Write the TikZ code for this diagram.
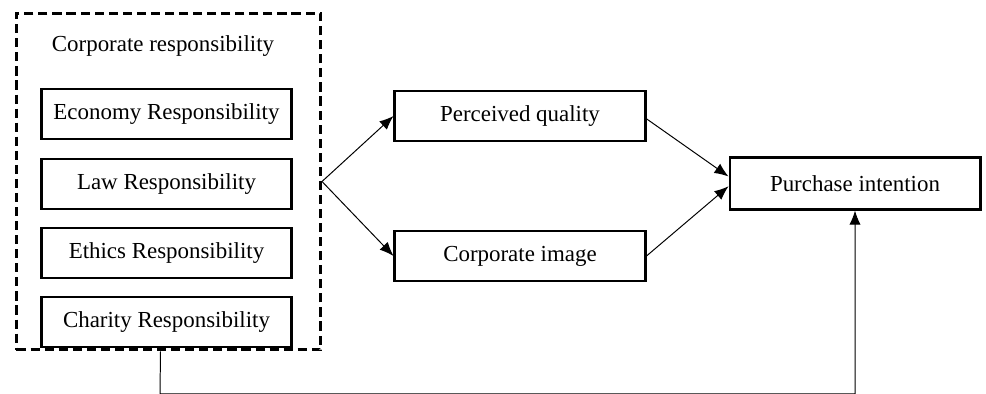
\documentclass[tikz,border=0pt]{standalone}
\usepackage{fontspec}
\setmainfont{Liberation Serif}
\usetikzlibrary{arrows.meta}
\tikzset{
  factor/.style={draw, line width=2.1pt, minimum width=6.25cm, minimum height=1.25cm,
    inner sep=0pt, font=\fontsize{16.3}{19}\selectfont},
  arr/.style={-{Latex[length=10pt,width=8pt]}, line width=0.7pt},
}
\begin{document}
\begin{tikzpicture}[x=0.025cm, y=-0.025cm]
    \useasboundingbox (0,0) rectangle (986,394);
    % left block
    \node[draw, line width=2.1pt, dash pattern=on 6.5pt off 3.5pt,
      minimum width=7.6cm, minimum height=8.42cm] (cr) at (168.5,181.5) {};
    \node[font=\fontsize{16.3}{19}\selectfont] (crtitle) at (163,46) {Corporate responsibility};
    \foreach \name/\txt/\y in {eco/Economy/114, law/Law/184, eth/Ethics/253, cha/Charity/322}
    \node[factor] (\name) at (166.5,\y) {\txt\ Responsibility};
    % mediators and outcome
    \node[factor] (pq) at (520,116) {Perceived quality};
    \node[factor] (ci) at (520,256) {Corporate image};
    \node[factor, minimum width=6.25cm, minimum height=1.28cm] (pi) at (855,183.5) {Purchase intention};
    \draw[arr] (cr.east) -- (pq.west);
    \draw[arr] (cr.east) -- (ci.west);
    \draw[arr] ([yshift=-2pt]pq.east) -- ([yshift=5pt]pi.west);
    \draw[arr] (ci.east) -- ([yshift=-2pt]pi.west);
    % direct path
    \coordinate (bend) at (160,393.8);
    \draw[arr] ([xshift=-0.2cm]cr.south) -- (bend) -| (pi.south);
\end{tikzpicture}
\end{document}
